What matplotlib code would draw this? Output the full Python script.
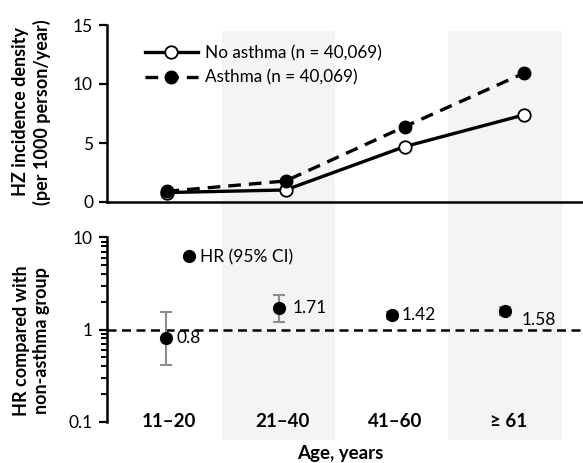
import matplotlib
matplotlib.use("Agg")
import matplotlib.pyplot as plt
from matplotlib.patches import Rectangle
from matplotlib.transforms import blended_transform_factory
import numpy as np

plt.rcParams['font.family'] = ['Lato', 'DejaVu Sans']

# ---------------- data ----------------
age_groups = ["11\u201320", "21\u201340", "41\u201360", "\u2265 61"]
no_asthma = [0.80, 1.02, 4.69, 7.37]
asthma = [0.90, 1.78, 6.38, 10.9]
hr = [0.80, 1.71, 1.42, 1.58]
hr_lo = [0.41, 1.21, 1.31, 1.44]
hr_hi = [1.55, 2.36, 1.55, 1.74]
hr_labels = ["0.8", "1.71", "1.42", "1.58"]
label_no = "No asthma (n = 40,069)"
label_as = "Asthma (n = 40,069)"

W, H = 583, 463
fig = plt.figure(figsize=(W / 100, H / 100), dpi=100)

def fx(px):
    return px / W

def fy(py):
    return 1 - py / H

ax1 = fig.add_axes([fx(107), fy(202), fx(583) - fx(107), fy(25) - fy(202)])
ax2 = fig.add_axes([fx(107), fy(421.7), fx(583) - fx(107), fy(237.3) - fy(421.7)])
for ax in (ax1, ax2):
    ax.set_facecolor('none')

x = np.arange(len(age_groups))

# shaded bands spanning both panels
band_tr = blended_transform_factory(ax2.transData, fig.transFigure)
for i in (1, 3):
    fig.patches.append(Rectangle((i - 0.5, fy(440)), 1.0, fy(31) - fy(440),
                                 transform=band_tr, facecolor='#F3F5F5',
                                 edgecolor='none', zorder=-10))

TICK_FS = 12.5
LAB_FS = 13

# ---------------- top panel ----------------
ax1.plot(x, no_asthma, color='black', lw=2.4, marker='o', ms=9,
         mfc='white', mec='black', mew=1.3, label=label_no, zorder=3)
ax1.plot(x, asthma, color='black', lw=2.4, ls=(0, (3.8, 2.4)), marker='o', ms=9,
         mfc='black', mec='black', label=label_as, zorder=4)
ax1.set_xlim(-0.5, 3.5)
ax1.set_ylim(0, 15)
ax1.set_yticks([0, 5, 10, 15])
ax1.set_xticks([])
for s in ('top', 'right'):
    ax1.spines[s].set_visible(False)
ax1.spines['left'].set_linewidth(1.8)
ax1.spines['bottom'].set_linewidth(1.8)
ax1.tick_params(axis='y', direction='out', length=6, width=1.6,
                labelsize=TICK_FS, pad=4)
fig.text(fx(31.5), fy(112), "HZ incidence density\n(per 1000 person/year)",
         rotation=90, ha='center', va='center', fontsize=LAB_FS,
         fontweight='bold', linespacing=1.25)
ax1.legend(loc='upper left', bbox_to_anchor=(fx(145), fy(45)),
           bbox_transform=fig.transFigure, frameon=False, fontsize=12.3,
           handlelength=3.1, handletextpad=0.4, labelspacing=0.5,
           borderpad=0, borderaxespad=0)

# ---------------- bottom panel ----------------
ax2.set_yscale('log')
ax2.set_ylim(0.1, 10)
ax2.set_xlim(-0.52, 3.69)
ax2.axhline(1, color='black', lw=1.8, ls=(0, (3.6, 2.2)), zorder=1)
err = [np.array(hr) - np.array(hr_lo), np.array(hr_hi) - np.array(hr)]
ax2.errorbar(x, hr, yerr=err, fmt='none', ecolor='#8c8c8c', elinewidth=1.5,
             capsize=4.5, capthick=1.5, zorder=2)
ax2.plot(x, hr, 'o', color='black', ms=8.5, label='HR (95% CI)', zorder=3)
offsets = [(8, 0), (10, 0), (7, 0), (12, -6)]
for xi, yi, t, off in zip(x, hr, hr_labels, offsets):
    ax2.annotate(t, (xi, yi), xytext=off, textcoords='offset points',
                 ha='left', va='center', fontsize=TICK_FS)
for s in ('top', 'right', 'bottom'):
    ax2.spines[s].set_visible(False)
ax2.spines['left'].set_linewidth(1.8)
ax2.set_xticks([])
ax2.set_yticks([0.1, 1, 10])
ax2.set_yticklabels(["0.1", "1", "10"])
ax2.tick_params(axis='y', which='major', direction='out', length=6, width=1.6,
                labelsize=TICK_FS, pad=4)
ax2.tick_params(axis='y', which='minor', direction='out', length=4, width=1.4)
ax2.yaxis.set_minor_formatter(matplotlib.ticker.NullFormatter())
lab_tr = blended_transform_factory(ax2.transData, ax2.transAxes)
for xi, g in zip(x, age_groups):
    ax2.text(xi + 0.03, 0.0, g, transform=lab_tr, ha='center', va='center',
             fontsize=13.5, fontweight='bold')
fig.text(fx(31.5), fy(341), "HR compared with\nnon-asthma group",
         rotation=90, ha='center', va='center', fontsize=LAB_FS,
         fontweight='bold', linespacing=1.25)
ax2.legend(loc='upper left', bbox_to_anchor=(fx(184), fy(249)),
           bbox_transform=fig.transFigure, frameon=False, fontsize=TICK_FS,
           handlelength=0.6, handletextpad=0.3, borderpad=0, borderaxespad=0)

fig.text(fx(340), fy(453), "Age, years", ha='center', va='center',
         fontsize=13.5, fontweight='bold')

fig.savefig("out.png", dpi=100)
